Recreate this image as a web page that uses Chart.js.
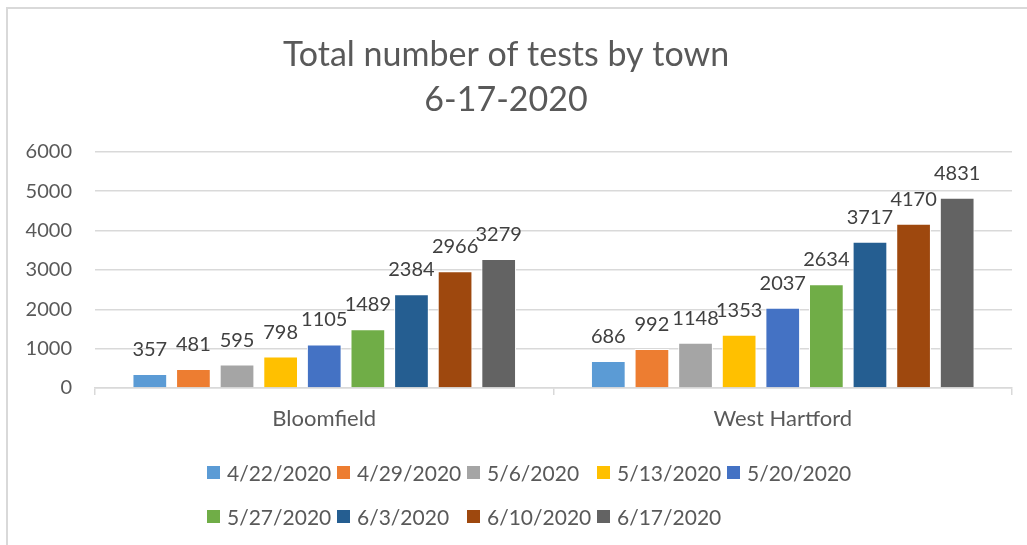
<!DOCTYPE html>
<html>
<head>
<meta charset="utf-8">
<script src="https://cdn.jsdelivr.net/npm/chart.js@4/dist/chart.umd.min.js"></script>
<style>
    body { margin: 0; background: #fff; }
    #wrap { position: relative; width: 1027px; height: 545px; overflow: hidden; }
    #frame { position: absolute; left: 6px; top: 7px; right: -4px; bottom: -4px;
             border-left: 2px solid #d9d9d9; border-top: 2px solid #d9d9d9; }
    #chart { position: absolute; left: 0; top: 0; }
    #legend { position: absolute; left: 207px; top: 450px; width: 660px;
              display: flex; flex-wrap: wrap; font-family: Lato, sans-serif;
              font-size: 21px; color: #595959; }
    #legend .item { width: 130px; height: 44px; display: flex; align-items: center; white-space: nowrap; }
    #legend .box { width: 13px; height: 13px; margin-right: 7px; flex: none; }
</style>
</head>
<body>
<div id="wrap">
    <div id="frame"></div>
    <canvas id="chart" width="1027" height="545"></canvas>
    <div id="legend"></div>
</div>
<script>
// data
const towns = ['Bloomfield', 'West Hartford'];
const dates = ['4/22/2020', '4/29/2020', '5/6/2020', '5/13/2020', '5/20/2020',
               '5/27/2020', '6/3/2020', '6/10/2020', '6/17/2020'];
const bloomfield = [357, 481, 595, 798, 1105, 1489, 2384, 2966, 3279];
const westHartford = [686, 992, 1148, 1353, 2037, 2634, 3717, 4170, 4831];
const colors = ['#5B9BD5', '#ED7D31', '#A5A5A5', '#FFC000', '#4472C4',
                '#70AD47', '#255E91', '#9E480E', '#636363'];
const yMin = 0, yMax = 6000, yStep = 1000;

let testsChart;

// numbers over each bar, like excel data labels
const barLabels = {
    id: 'barLabels',
    afterDatasetsDraw(chart) {
        const ctx = chart.ctx;
        ctx.save();
        ctx.font = '20px Lato';
        ctx.fillStyle = '#404040';
        ctx.textAlign = 'center';
        ctx.textBaseline = 'alphabetic';
        chart.data.datasets.forEach((ds, i) => {
            chart.getDatasetMeta(i).data.forEach((bar, j) => {
                ctx.fillText(ds.data[j], bar.x, bar.y - 18);
            });
        });
        ctx.restore();
    }
};

function init() {
    let datasets = dates.map((d, i) => ({
        label: d,
        data: [bloomfield[i], westHartford[i]],
        backgroundColor: colors[i],
        borderColor: '#ffffff',
        borderWidth: 1,
        categoryPercentage: 0.856,
        barPercentage: 0.796
    }));

    const ctx = document.getElementById('chart').getContext('2d');
    testsChart = new Chart(ctx, {
        type: 'bar',
        data: { labels: towns, datasets: datasets },
        plugins: [barLabels],
        options: {
            responsive: false,
            animation: false,
            layout: { padding: { left: 0, right: 15, top: 0, bottom: 113 } },
            plugins: {
                legend: { display: false },
                tooltip: { enabled: false },
                title: {
                    display: true,
                    text: ['Total number of tests by town', '6-17-2020'],
                    color: '#595959',
                    font: { family: 'Lato', size: 34, weight: 'normal', lineHeight: 1.32 },
                    padding: { top: 33, bottom: 29 }
                }
            },
            scales: {
                x: {
                    offset: true,
                    grid: { offset: true, drawOnChartArea: false, drawTicks: true, tickLength: 7,
                            color: '#d9d9d9', lineWidth: 1.5 },
                    border: { display: true, color: '#d9d9d9', width: 1.5 },
                    ticks: { color: '#595959', font: { family: 'Lato', size: 22 }, padding: 11 },
                    afterFit: (s) => { s.height = 44; }
                },
                y: {
                    min: yMin,
                    max: yMax,
                    grid: { color: '#d9d9d9', lineWidth: 1.5, drawTicks: false },
                    border: { display: false },
                    ticks: { stepSize: yStep, color: '#595959', font: { family: 'Lato', size: 20 },
                             padding: 23, callback: (v) => v },
                    afterFit: (s) => { s.width = 95; }
                }
            }
        }
    });

    // html legend laid out in two rows like the original
    const legend = document.getElementById('legend');
    dates.forEach((d, i) => {
        let item = document.createElement('div');
        item.className = 'item';
        item.innerHTML = '<span class="box" style="background:' + colors[i] + '"></span>' + d;
        legend.appendChild(item);
    });
}

init();
</script>
</body>
</html>
